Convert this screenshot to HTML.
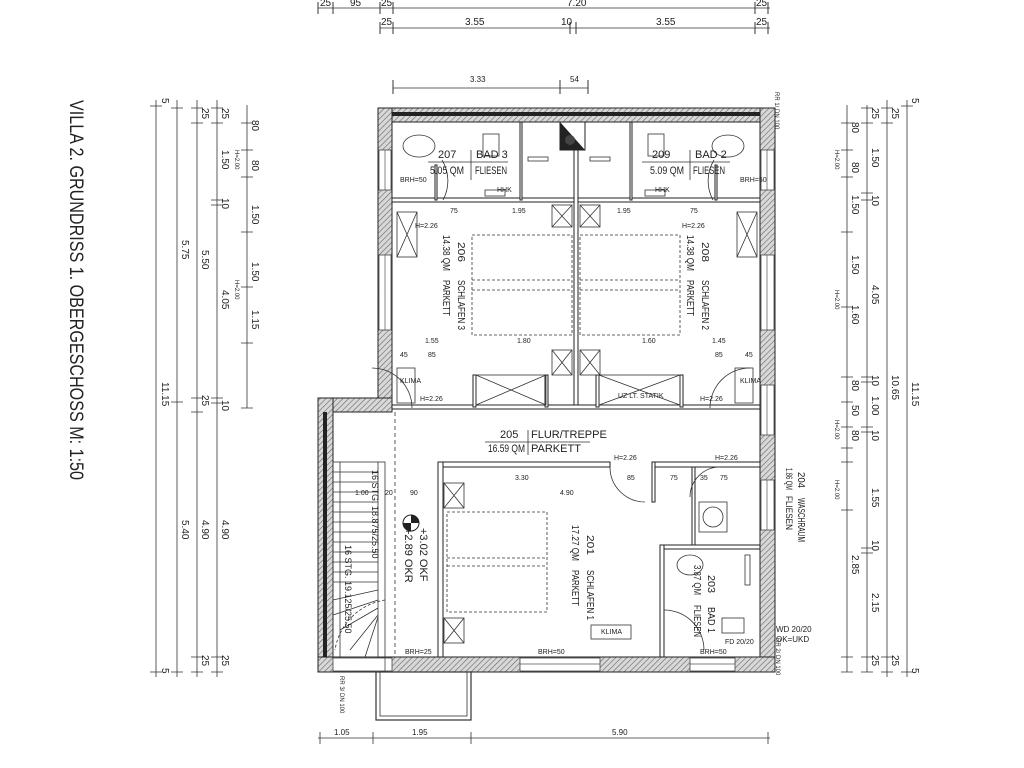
<!DOCTYPE html>
<html><head><meta charset="utf-8"><style>
html,body{margin:0;padding:0;background:#fff;}
svg{display:block;font-family:"Liberation Sans",sans-serif;}
text{fill:#222;}
</style></head><body>
<svg width="1024" height="768" viewBox="0 0 1024 768" xmlns="http://www.w3.org/2000/svg">
<defs>
<pattern id="h" width="4" height="4" patternUnits="userSpaceOnUse" patternTransform="rotate(45)">
<rect width="4" height="4" fill="#d8d8d8"/><line x1="0" y1="0" x2="0" y2="4" stroke="#666" stroke-width="1.2"/></pattern>
</defs>
<g stroke="#333" fill="none" stroke-width="0.8">
<line x1="318" y1="8" x2="770" y2="8"/><line x1="380" y1="28" x2="770" y2="28"/>
<line x1="393" y1="88" x2="588" y2="88"/>
<g stroke-width="1"><path d="M318 2v12M333 2v12M380 2v12M393 2v12M755 2v12M768 2v12M380 22v12M393 22v12M570 22v12M576 22v12M755 22v12M768 22v12M393 80v14M560 80v14M588 80v14"/></g>
<line x1="156" y1="100" x2="156" y2="677"/><line x1="177" y1="100" x2="177" y2="677"/>
<line x1="197" y1="100" x2="197" y2="677"/><line x1="217" y1="100" x2="217" y2="677"/>
<line x1="247" y1="105" x2="247" y2="408"/>
<path d="M150 106h12M150 672h12M171 108h12M171 402h12M171 672h12M191 108h12M191 123h12M191 398h12M191 412h12M191 657h12M191 672h12M211 108h12M211 123h12M211 200h12M211 205h12M211 398h12M211 403h12M211 657h12M211 672h12M241 123h12M241 150h12M241 177h12M241 232h12M241 287h12M241 343h12M241 408h12"/>
<line x1="847" y1="105" x2="847" y2="672"/><line x1="867" y1="105" x2="867" y2="672"/>
<line x1="887" y1="100" x2="887" y2="677"/><line x1="907" y1="100" x2="907" y2="677"/>
<path d="M841 123h12M841 150h12M841 177h12M841 232h12M841 307h12M841 377h12M841 402h12M841 427h12M841 448h12M841 462h12M841 510h12M841 657h12M841 672h12M861 108h12M861 123h12M861 193h12M861 200h12M861 377h12M861 382h12M861 427h12M861 432h12M861 548h12M861 553h12M861 657h12M861 672h12M881 108h12M881 123h12M881 657h12M881 672h12M901 106h12M901 672h12"/>
<line x1="318" y1="738" x2="770" y2="738"/>
<path d="M320 732v12M373 732v12M471 732v12M768 732v12"/>
</g>
<g font-size="10">
<text x="320" y="6">25</text><text x="350" y="6">95</text><text x="381" y="6">25</text><text x="567" y="6">7.20</text><text x="756" y="6">25</text>
<text x="381" y="25">25</text><text x="465" y="25">3.55</text><text x="561" y="25">10</text><text x="656" y="25">3.55</text><text x="756" y="25">25</text>
<text x="470" y="82" font-size="8">3.33</text><text x="570" y="82" font-size="8">54</text>
<text x="334" y="735" font-size="8">1.05</text><text x="412" y="735" font-size="8">1.95</text><text x="612" y="735" font-size="8">5.90</text>
</g>
<g font-size="10">
<g transform="translate(162,98) rotate(90)"><text>5</text></g>
<g transform="translate(162,382) rotate(90)"><text>11.15</text></g>
<g transform="translate(162,668) rotate(90)"><text>5</text></g>
<g transform="translate(182,240) rotate(90)"><text>5.75</text></g>
<g transform="translate(182,520) rotate(90)"><text>5.40</text></g>
<g transform="translate(202,108) rotate(90)"><text>25</text></g>
<g transform="translate(202,250) rotate(90)"><text>5.50</text></g>
<g transform="translate(202,395) rotate(90)"><text>25</text></g>
<g transform="translate(202,520) rotate(90)"><text>4.90</text></g>
<g transform="translate(202,655) rotate(90)"><text>25</text></g>
<g transform="translate(222,108) rotate(90)"><text>25</text></g>
<g transform="translate(222,150) rotate(90)"><text>1.50</text></g>
<g transform="translate(222,198) rotate(90)"><text>10</text></g>
<g transform="translate(222,290) rotate(90)"><text>4.05</text></g>
<g transform="translate(222,400) rotate(90)"><text>10</text></g>
<g transform="translate(222,520) rotate(90)"><text>4.90</text></g>
<g transform="translate(222,655) rotate(90)"><text>25</text></g>
<g transform="translate(252,120) rotate(90)"><text>80</text></g>
<g transform="translate(252,160) rotate(90)"><text>80</text></g>
<g transform="translate(252,205) rotate(90)"><text>1.50</text></g>
<g transform="translate(252,262) rotate(90)"><text>1.50</text></g>
<g transform="translate(252,310) rotate(90)"><text>1.15</text></g>
<g transform="translate(235,150) rotate(90)" font-size="6"><text>H=2.00</text></g>
<g transform="translate(235,280) rotate(90)" font-size="6"><text>H=2.00</text></g>
</g>
<g font-size="10">
<g transform="translate(852,122) rotate(90)"><text>80</text></g>
<g transform="translate(852,162) rotate(90)"><text>80</text></g>
<g transform="translate(852,195) rotate(90)"><text>1.50</text></g>
<g transform="translate(852,255) rotate(90)"><text>1.50</text></g>
<g transform="translate(852,305) rotate(90)"><text>1.60</text></g>
<g transform="translate(852,380) rotate(90)"><text>80</text></g>
<g transform="translate(852,405) rotate(90)"><text>50</text></g>
<g transform="translate(852,430) rotate(90)"><text>80</text></g>
<g transform="translate(852,555) rotate(90)"><text>2.85</text></g>
<g transform="translate(872,108) rotate(90)"><text>25</text></g>
<g transform="translate(872,148) rotate(90)"><text>1.50</text></g>
<g transform="translate(872,195) rotate(90)"><text>10</text></g>
<g transform="translate(872,285) rotate(90)"><text>4.05</text></g>
<g transform="translate(872,375) rotate(90)"><text>10</text></g>
<g transform="translate(872,396) rotate(90)"><text>1.00</text></g>
<g transform="translate(872,430) rotate(90)"><text>10</text></g>
<g transform="translate(872,488) rotate(90)"><text>1.55</text></g>
<g transform="translate(872,540) rotate(90)"><text>10</text></g>
<g transform="translate(872,593) rotate(90)"><text>2.15</text></g>
<g transform="translate(872,655) rotate(90)"><text>25</text></g>
<g transform="translate(892,108) rotate(90)"><text>25</text></g>
<g transform="translate(892,375) rotate(90)"><text>10.65</text></g>
<g transform="translate(892,655) rotate(90)"><text>25</text></g>
<g transform="translate(912,98) rotate(90)"><text>5</text></g>
<g transform="translate(912,382) rotate(90)"><text>11.15</text></g>
<g transform="translate(912,668) rotate(90)"><text>5</text></g>
<g transform="translate(835,150) rotate(90)" font-size="6"><text>H=2.00</text></g>
<g transform="translate(835,290) rotate(90)" font-size="6"><text>H=2.00</text></g>
<g transform="translate(835,420) rotate(90)" font-size="6"><text>H=2.00</text></g>
<g transform="translate(835,480) rotate(90)" font-size="6"><text>H=2.00</text></g>
<g transform="translate(798,472) rotate(90)"><text textLength="16" lengthAdjust="spacingAndGlyphs">204</text><text x="26" textLength="44" lengthAdjust="spacingAndGlyphs">WASCHRAUM</text></g>
<g transform="translate(786,468) rotate(90)" font-size="9"><text textLength="22" lengthAdjust="spacingAndGlyphs">1.86 QM</text><text x="28" textLength="34" lengthAdjust="spacingAndGlyphs">FLIESEN</text></g>
<g transform="translate(775,92) rotate(90)" font-size="6"><text>RR 1/ DN 100</text></g>
<g transform="translate(776,638) rotate(90)" font-size="6"><text>RR 2/ DN 100</text></g>
<g transform="translate(340,676) rotate(90)" font-size="6"><text>RR 3/ DN 100</text></g>
</g>
<text x="776" y="632" font-size="8">WD 20/20</text><text x="776" y="642" font-size="8">OK=UKD</text>
<g transform="translate(70,100) rotate(90)"><text font-size="19" textLength="380" lengthAdjust="spacingAndGlyphs">VILLA 2. GRUNDRISS 1. OBERGESCHOSS M: 1:50</text></g>

<g fill="url(#h)" stroke="#222" stroke-width="1">
<rect x="378" y="108" width="397" height="14"/>
<rect x="378" y="108" width="14" height="300"/>
<rect x="760" y="108" width="15" height="564"/>
<rect x="318" y="398" width="74" height="14"/>
<rect x="318" y="398" width="15" height="274"/>
<rect x="318" y="657" width="457" height="15"/>
</g>
<rect x="392" y="112" width="368" height="4" fill="#222"/>
<rect x="323" y="412" width="4" height="245" fill="#222"/>
<g fill="#fff" stroke="#444" stroke-width="0.8">
<rect x="379" y="150" width="12" height="40"/><rect x="379" y="255" width="12" height="75"/>
<rect x="761" y="150" width="13" height="40"/><rect x="761" y="255" width="13" height="75"/>
<rect x="761" y="385" width="13" height="50"/><rect x="761" y="480" width="13" height="50"/>
<rect x="380" y="658" width="12" height="13"/><rect x="520" y="658" width="80" height="13"/>
<rect x="690" y="658" width="45" height="13"/><rect x="333" y="658" width="52" height="13"/>
</g>
<g stroke="#555" stroke-width="0.7"><path d="M385 150v40M385 255v75M767 150v40M767 255v75M767 385v50M767 480v50M520 664h80M690 664h45"/></g>
<rect x="376" y="672" width="95" height="48" fill="none" stroke="#333" stroke-width="1.2"/>
<rect x="380" y="672" width="87" height="44" fill="none" stroke="#333" stroke-width="0.8"/>

<g fill="#fff" stroke="#222" stroke-width="1">
<rect x="392" y="198" width="368" height="4"/>
<rect x="574" y="122" width="4" height="286"/>
<rect x="392" y="405" width="368" height="4"/>
<rect x="438" y="462" width="172" height="5"/>
<rect x="652" y="462" width="108" height="5"/>
<rect x="438" y="462" width="5" height="195"/>
<rect x="692" y="467" width="3" height="78"/>
<rect x="660" y="545" width="100" height="4"/>
<rect x="660" y="545" width="4" height="112"/>
<rect x="652" y="462" width="3" height="40"/>
<rect x="435" y="165" width="2" height="35"/><rect x="715" y="165" width="2" height="35"/>
<rect x="520" y="122" width="2" height="78"/><rect x="630" y="122" width="2" height="78"/>
<rect x="473" y="375" width="3" height="32"/><rect x="545" y="375" width="3" height="32"/>
<rect x="596" y="375" width="3" height="32"/><rect x="680" y="375" width="3" height="32"/>
</g>
<polygon points="560,122 585,122 585,150 560,150" fill="#fff" stroke="#222"/>
<polygon points="560,122 585,150 560,150" fill="#222"/>
<circle cx="570" cy="140" r="5" fill="#444"/>

<g fill="none" stroke="#333" stroke-width="0.8">
<ellipse cx="419" cy="146" rx="16" ry="11"/><ellipse cx="728" cy="146" rx="16" ry="11"/>
<rect x="483" y="134" width="16" height="22"/><rect x="648" y="134" width="16" height="22"/>
<rect x="485" y="190" width="20" height="6"/><rect x="645" y="190" width="20" height="6"/>
<rect x="528" y="157" width="20" height="4"/><rect x="590" y="157" width="20" height="4"/>
<path d="M443 200a40 40 0 0 0 -1 -40M713 200a40 40 0 0 1 1 -40"/>
<rect x="472" y="235" width="100" height="100" stroke-dasharray="3 2"/>
<rect x="580" y="235" width="100" height="100" stroke-dasharray="3 2"/>
<path d="M472 280h100M472 290h100M580 280h100M580 290h100" stroke-dasharray="3 2"/>
<rect x="447" y="512" width="100" height="100" stroke-dasharray="3 2"/>
<path d="M447 558h100M447 566h100" stroke-dasharray="3 2"/>
<rect x="397" y="212" width="20" height="45"/><path d="M397 212l20 45M417 212l-20 45"/>
<rect x="737" y="212" width="20" height="45"/><path d="M737 212l20 45M757 212l-20 45"/>
<rect x="552" y="205" width="20" height="22"/><path d="M552 205l20 22M572 205l-20 22"/>
<rect x="580" y="205" width="20" height="22"/><path d="M580 205l20 22M600 205l-20 22"/>
<rect x="552" y="350" width="20" height="25"/><path d="M552 350l20 25M572 350l-20 25"/>
<rect x="580" y="350" width="20" height="25"/><path d="M580 350l20 25M600 350l-20 25"/>
<rect x="476" y="375" width="70" height="30"/><path d="M476 375l70 30M546 375l-70 30"/>
<rect x="599" y="375" width="81" height="30"/><path d="M599 375l81 30M680 375l-81 30"/>
<rect x="444" y="483" width="20" height="25"/><path d="M444 483l20 25M464 483l-20 25"/>
<rect x="444" y="618" width="20" height="25"/><path d="M444 618l20 25M464 618l-20 25"/>
<rect x="397" y="368" width="18" height="35"/><rect x="735" y="368" width="18" height="35"/>
<rect x="591" y="625" width="40" height="14"/>
<path d="M412 408a40 40 0 0 0 -40 -40M710 408a40 40 0 0 1 40 -40M610 467a35 35 0 0 0 35 35M720 467a30 30 0 0 0 -30 30M664 610a40 40 0 0 1 40 40"/>
<rect x="699" y="502" width="28" height="30"/><circle cx="713" cy="517" r="10"/>
<ellipse cx="690" cy="565" rx="13" ry="10"/><rect x="722" y="618" width="22" height="15"/>
<rect x="745" y="555" width="5" height="30"/>
<rect x="333" y="462" width="52" height="195"/>
<path d="M378 462v195M340 462v195"/>
<path d="M333 472h45M333 482h45M333 492h45M333 502h45M333 512h45M333 522h45M333 532h45M333 542h45M333 552h45M333 562h45M333 572h45M333 582h45"/>
<path d="M333 600l45 -10M333 615l45 -15M340 630l38 -22M350 650l28 -35M365 657l13 -40"/>
<path d="M385 600a60 60 0 0 0 -50 50" stroke-dasharray="3 2"/>
<path d="M395 412v245" stroke-dasharray="4 3"/>
</g>
<circle cx="411" cy="523" r="8" fill="#fff" stroke="#222"/>
<path d="M411 515a8 8 0 0 1 8 8h-8zM411 531a8 8 0 0 1 -8 -8h8z" fill="#222"/>

<g font-size="11">
<text x="438" y="158">207</text><text x="476" y="158">BAD 3</text>
<text x="430" y="174" textLength="34" lengthAdjust="spacingAndGlyphs">5.05 QM</text><text x="475" y="174" textLength="32" lengthAdjust="spacingAndGlyphs">FLIESEN</text>
<text x="652" y="158">209</text><text x="695" y="158">BAD 2</text>
<text x="650" y="174" textLength="34" lengthAdjust="spacingAndGlyphs">5.09 QM</text><text x="693" y="174" textLength="32" lengthAdjust="spacingAndGlyphs">FLIESEN</text>
<path d="M428 162h80M642 162h88M471 150v30M690 150v30" stroke="#333" stroke-width="0.8" fill="none"/>
<text x="497" y="192" font-size="7">HHK</text><text x="655" y="192" font-size="7">HHK</text>
<text x="500" y="438">205</text><text x="531" y="438">FLUR/TREPPE</text>
<text x="488" y="452" textLength="37" lengthAdjust="spacingAndGlyphs">16.59 QM</text><text x="531" y="452">PARKETT</text>
<path d="M485 442h105M528 430v25" stroke="#333" stroke-width="0.8"/>
<g font-size="10" lengthAdjust="spacingAndGlyphs">
<g transform="translate(458,242) rotate(90)"><text textLength="20" lengthAdjust="spacingAndGlyphs">206</text><text x="38" textLength="50" lengthAdjust="spacingAndGlyphs">SCHLAFEN 3</text></g>
<g transform="translate(443,235) rotate(90)"><text textLength="36" lengthAdjust="spacingAndGlyphs">14.38 QM</text><text x="45" textLength="36" lengthAdjust="spacingAndGlyphs">PARKETT</text></g>
<g transform="translate(702,242) rotate(90)"><text textLength="20" lengthAdjust="spacingAndGlyphs">208</text><text x="38" textLength="50" lengthAdjust="spacingAndGlyphs">SCHLAFEN 2</text></g>
<g transform="translate(687,235) rotate(90)"><text textLength="36" lengthAdjust="spacingAndGlyphs">14.38 QM</text><text x="45" textLength="36" lengthAdjust="spacingAndGlyphs">PARKETT</text></g>
<g transform="translate(587,535) rotate(90)"><text textLength="20" lengthAdjust="spacingAndGlyphs">201</text><text x="35" textLength="50" lengthAdjust="spacingAndGlyphs">SCHLAFEN 1</text></g>
<g transform="translate(572,525) rotate(90)"><text textLength="36" lengthAdjust="spacingAndGlyphs">17.27 QM</text><text x="45" textLength="36" lengthAdjust="spacingAndGlyphs">PARKETT</text></g>
<g transform="translate(708,575) rotate(90)"><text textLength="18" lengthAdjust="spacingAndGlyphs">203</text><text x="32" textLength="26" lengthAdjust="spacingAndGlyphs">BAD 1</text></g>
<g transform="translate(694,565) rotate(90)"><text textLength="30" lengthAdjust="spacingAndGlyphs">3.87 QM</text><text x="40" textLength="32" lengthAdjust="spacingAndGlyphs">FLIESEN</text></g>
</g>
<g transform="translate(420,528) rotate(90)"><text>+3.02 OKF</text></g>
<g transform="translate(405,528) rotate(90)"><text>+2.89 OKR</text></g>
<g transform="translate(372,470) rotate(90)" font-size="9"><text>16 STG. 18.875/25.50</text></g>
<g transform="translate(345,545) rotate(90)" font-size="9"><text>16 STG. 19.125/25.50</text></g>
</g>
<g font-size="7">
<text x="400" y="182">BRH=50</text><text x="740" y="182">BRH=50</text>
<text x="512" y="213">1.95</text><text x="617" y="213">1.95</text><text x="450" y="213">75</text><text x="690" y="213">75</text>
<text x="415" y="228">H=2.26</text><text x="682" y="228">H=2.26</text>
<text x="425" y="343">1.55</text><text x="517" y="343">1.80</text><text x="642" y="343">1.60</text><text x="712" y="343">1.45</text>
<text x="400" y="357">45</text><text x="428" y="357">85</text><text x="715" y="357">85</text><text x="745" y="357">45</text>
<text x="420" y="401">H=2.26</text><text x="700" y="401">H=2.26</text>
<text x="618" y="398">UZ LT. STATIK</text>
<text x="400" y="383">KLIMA</text><text x="740" y="383">KLIMA</text>
<text x="515" y="480">3.30</text><text x="560" y="495">4.90</text><text x="627" y="480">85</text>
<text x="355" y="495">1.00</text><text x="410" y="495">90</text><text x="385" y="495">20</text>
<text x="614" y="460">H=2.26</text><text x="715" y="460">H=2.26</text>
<text x="670" y="480">75</text><text x="700" y="480">35</text><text x="720" y="480">75</text>
<text x="405" y="654">BRH=25</text><text x="538" y="654">BRH=50</text><text x="700" y="654">BRH=50</text>
<text x="601" y="634">KLIMA</text><text x="725" y="644">FD 20/20</text>
</g>
</svg>
</body></html>
